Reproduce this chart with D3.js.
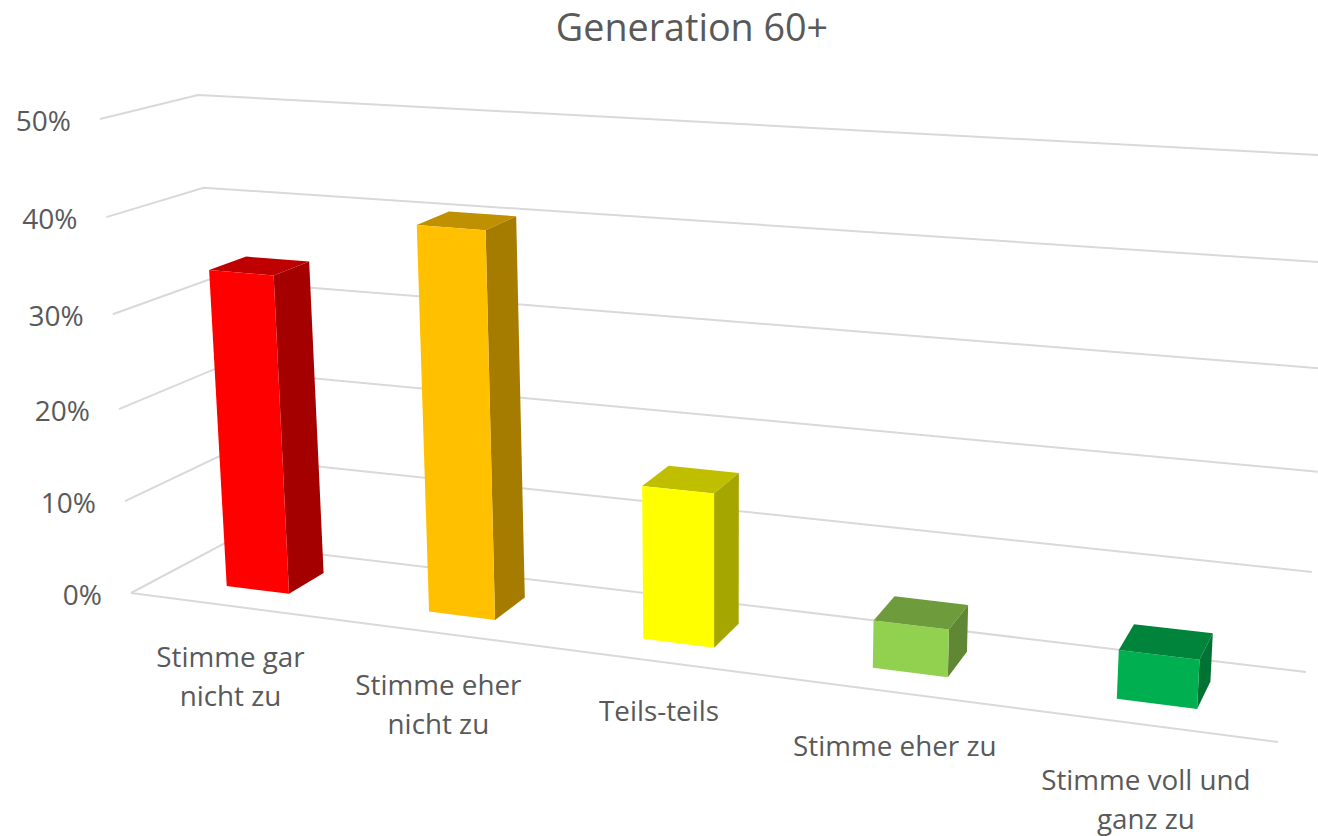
<!DOCTYPE html>
<html lang="de">
<head>
<meta charset="utf-8">
<title>Generation 60+</title>
<script src="https://cdnjs.cloudflare.com/ajax/libs/d3/7.8.5/d3.min.js"></script>
<style>
html,body{margin:0;padding:0;background:#fff;overflow:hidden}
svg{display:block}
text{font-family:"Open Sans","Noto Sans",sans-serif;fill:#595959}
</style>
</head>
<body>
<svg id="chart" width="1318" height="836"></svg>
<script>
const titleText = "Generation 60+";
const categories = [
  ["Stimme gar","nicht zu"],
  ["Stimme eher","nicht zu"],
  ["Teils-teils"],
  ["Stimme eher zu"],
  ["Stimme voll und","ganz zu"]
];
const values = [34.1, 40.4, 15.9, 4.8, 4.8];
const ticks = [0, 10, 20, 30, 40, 50];
const frontColors = ["#ff0000","#ffc000","#ffff00","#92d050","#00b050"];
const sideColors  = ["#a50000","#a67c00","#a6a600","#5f8734","#007334"];
const topColors   = ["#bf0000","#bf9000","#bfbf00","#6e9c3c","#00843c"];

// Projected box of the 3D plot: [depth 0 | depth 1] x [left | right] x [0% | 50%]
const corners = {
  fl0:[131,593], fr0:[1278,742], bl0:[225,543], br0:[1306,672],
  fl1:[100,119], fr1:[1309,199], bl1:[198,95],  br1:[1336,156]
};
const mix = d3.interpolateNumber;
function project(u, d, h) {
  const c = i => {
    const f0 = mix(corners.fl0[i], corners.fr0[i])(u), b0 = mix(corners.bl0[i], corners.br0[i])(u);
    const f1 = mix(corners.fl1[i], corners.fr1[i])(u), b1 = mix(corners.bl1[i], corners.br1[i])(u);
    return mix(mix(f0, b0)(d), mix(f1, b1)(d))(h);
  };
  return [c(0), c(1)];
}

// Value axis (slightly stretched by the perspective) and category axis
const yScale = d3.scaleLinear().domain(ticks).range([0, .194, .388, .588, .793, 1]);
const half = 0.156;
const xScale = d3.scaleLinear()
  .domain(categories.flatMap((_, i) => [i + .5 - half, i + .5 + half]))
  .range([.0591,.1144,.2387,.2973,.4289,.4917,.6326,.6992,.8492,.9205]);
const depthFront = .31, depthBack = .71;
const labelDrop = d3.scaleLinear().domain([0,1,2,3,4]).range([51,52,49.5,54,55]);

const svg = d3.select("#chart");
const line = d3.line();
const poly = pts => line(pts) + "Z";

svg.append("text").attr("x", 692).attr("y", 28).attr("dy", ".35em")
  .attr("text-anchor", "middle").attr("font-size", 37.7).text(titleText);

const grid = svg.append("g").attr("fill", "none").attr("stroke", "#d9d9d9").attr("stroke-width", 2);
ticks.forEach(t => {
  const h = yScale(t);
  grid.append("path").attr("d", line([project(0,0,h), project(0,1,h), project(1,1,h)]));
});
grid.append("path").attr("d", line([project(0,0,0), project(1,0,0)]));

svg.append("g").selectAll("text").data(ticks).join("text")
  .attr("x", t => project(0,0,yScale(t))[0] - 29)
  .attr("y", t => project(0,0,yScale(t))[1] + 2)
  .attr("dy", ".35em").attr("text-anchor", "end").attr("font-size", 28)
  .text(t => t + "%");

const bars = svg.append("g").selectAll("g").data(values).join("g");
bars.each(function(v, i) {
  const g = d3.select(this);
  const a = xScale(i + .5 - half), b = xScale(i + .5 + half), h = yScale(v);
  const f = depthFront, k = depthBack;
  g.append("path").attr("fill", topColors[i])
    .attr("d", poly([project(a,f,h), project(b,f,h), project(b,k,h), project(a,k,h)]));
  g.append("path").attr("fill", sideColors[i])
    .attr("d", poly([project(b,f,0), project(b,f,h), project(b,k,h), project(b,k,0)]));
  g.append("path").attr("fill", frontColors[i])
    .attr("d", poly([project(a,f,0), project(b,f,0), project(b,f,h), project(a,f,h)]));
});

svg.append("g").selectAll("text").data(categories).join("text")
  .attr("text-anchor", "middle").attr("font-size", 27.8)
  .each(function(lines, i) {
    const p = project(xScale(i + .5), 0, 0);
    d3.select(this).selectAll("tspan").data(lines).join("tspan")
      .attr("x", p[0])
      .attr("y", (l, j) => p[1] + labelDrop(i) + j * 39)
      .attr("dy", ".35em")
      .text(l => l);
  });
</script>
</body>
</html>
